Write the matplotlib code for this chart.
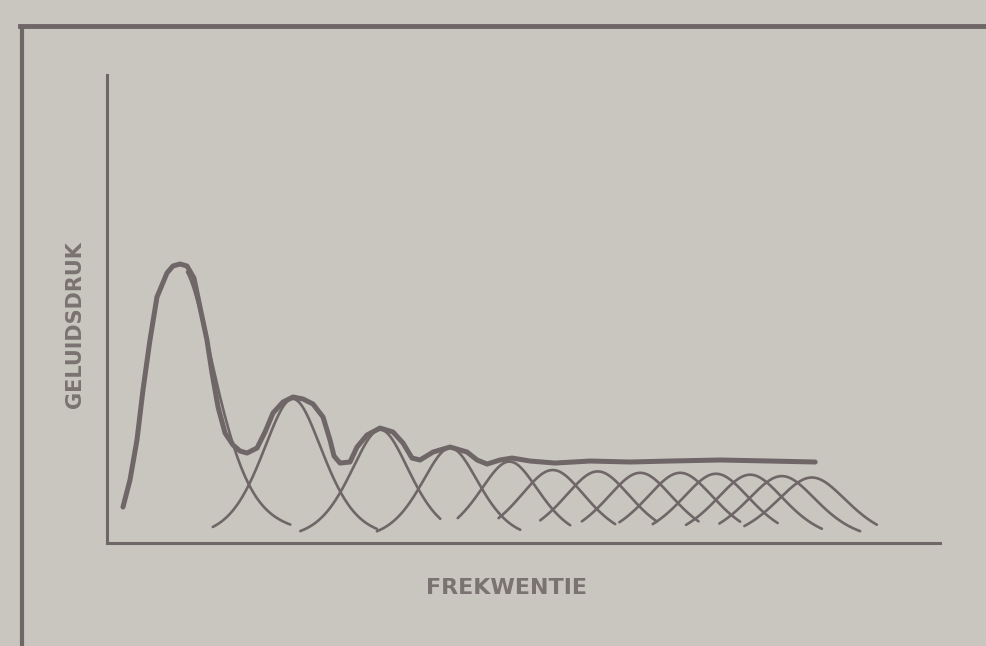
import numpy as np
import matplotlib.pyplot as plt
from matplotlib.lines import Line2D

# resonance curves (frequency 0-100, level 0-100, arbitrary units)
centers = [8.8, 22.3, 32.8, 41.2, 48.3, 53.5, 58.9, 64.0, 68.8, 73.1, 77.2, 81.0, 84.6]
heights = [59.2, 30.8, 24.2, 20.3, 17.4, 15.6, 15.3, 15.0, 15.0, 14.8, 14.6, 14.3, 14.0]
halfwidths = [5.0, 4.5, 4.4, 4.3, 4.5, 5.0, 5.1, 5.1, 5.2, 5.2, 5.2, 5.3, 5.4]
starts = [9.6, 12.7, 23.2, 32.4, 42.1, 47.0, 52.0, 57.0, 61.5, 65.5, 69.5, 73.5, 76.5]
ends = [22.0, 32.4, 40.0, 49.6, 55.6, 61.0, 66.0, 71.0, 76.0, 80.5, 85.8, 90.4, 92.4]

# overall response (thick line)
env_x = [1.92, 2.76, 3.60, 4.32, 5.16, 6.00, 7.20, 7.92, 8.76, 9.60, 10.44, 11.16, 12.00,
         12.61, 13.33, 14.17, 15.13, 15.97, 16.81, 18.01, 18.97, 19.93, 21.13, 22.33,
         23.53, 24.73, 25.93, 26.77, 27.25, 27.97, 29.17, 30.01, 31.21, 32.77, 34.33,
         35.53, 36.61, 37.58, 39.14, 41.18, 43.22, 44.42, 45.62, 47.18, 48.62, 50.78,
         53.78, 57.98, 62.79, 67.59, 73.59, 79.59, 85.0]
env_y = [7.69, 13.46, 22.01, 32.69, 43.38, 52.56, 57.69, 59.19, 59.62, 59.19, 56.62, 50.43,
         43.38, 36.32, 29.06, 23.50, 20.94, 19.66, 19.23, 20.30, 23.72, 27.78, 30.13, 31.20,
         30.77, 29.70, 26.92, 22.01, 18.59, 17.09, 17.31, 20.51, 23.08, 24.57, 23.72,
         21.37, 18.16, 17.74, 19.44, 20.51, 19.44, 17.74, 16.88, 17.74, 18.16, 17.52,
         17.09, 17.52, 17.31, 17.52, 17.74, 17.52, 17.31]

ink = '#6f6668'
paper = '#c9c6bf'

fig = plt.figure(figsize=(9.86, 6.46), dpi=100, facecolor=paper)
ax = fig.add_axes([0.1085, 0.1594, 0.845, 0.7245], facecolor=paper)

#individual resonances, half lorentz / half gauss
for c, h, w, a, b in zip(centers, heights, halfwidths, starts, ends):
    f = np.linspace(a, b, 200)
    u = (f - c) / w
    level = h * (0.5 / (1 + u**2) + 0.5 * np.exp(-np.log(2) * u**2))
    ax.plot(f, level, color=ink, lw=1.9, solid_capstyle='round')

ax.plot(env_x, env_y, color=ink, lw=3.6, solid_capstyle='round', solid_joinstyle='round')

ax.set_xlim(0, 100)
ax.set_ylim(0, 100)
for s in ['top', 'right']:
    ax.spines[s].set_visible(False)
for s in ['left', 'bottom']:
    ax.spines[s].set_color(ink)
    ax.spines[s].set_linewidth(2.2)
ax.set_xticks([])
ax.set_yticks([])

ax.text(0.48, -0.096, 'FREKWENTIE', transform=ax.transAxes, ha='center', va='center',
        fontsize=16, fontweight='bold', color='#7a7372')
ax.text(-0.038, 0.466, 'GELUIDSDRUK', transform=ax.transAxes, ha='center', va='center',
        rotation=90, fontsize=15, fontweight='bold', color='#7a7372')

# outer frame of the scan
fig.add_artist(Line2D([0.02, 1.0], [0.959, 0.959], color=ink, lw=3.5))
fig.add_artist(Line2D([0.022, 0.022], [0.0, 0.955], color=ink, lw=3.0))

fig.savefig('out.png', dpi=100, facecolor=paper)
